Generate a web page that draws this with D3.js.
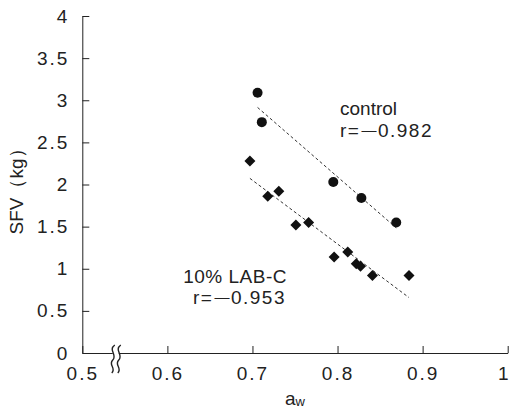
<!DOCTYPE html>
<html>
<head>
<meta charset="utf-8">
<script src="https://cdn.jsdelivr.net/npm/d3@7"></script>
<style>
  body { margin: 0; background: #fff; }
  svg { display: block; font-family: "Liberation Sans", Arial, sans-serif; }
  .axis text { font-size: 19px; fill: #222; letter-spacing: 2px; }
  .axis path, .axis line { stroke: #222; stroke-width: 1; }
  .note { font-size: 19px; fill: #222; }
</style>
</head>
<body>
<svg id="chart" width="510" height="410"></svg>
<script>
// control samples (a_w, SFV kg)
const controlAw = [0.706, 0.711, 0.795, 0.828, 0.869];
const controlSfv = [3.09, 2.74, 2.03, 1.84, 1.55];
// 10% LAB-C samples
const labAw = [0.697, 0.718, 0.731, 0.751, 0.766, 0.796, 0.812, 0.822, 0.827, 0.841, 0.884];
const labSfv = [2.28, 1.86, 1.92, 1.52, 1.55, 1.14, 1.20, 1.06, 1.03, 0.92, 0.92];

const xTicks = [0.5, 0.6, 0.7, 0.8, 0.9, 1];
const yTicks = [0, 0.5, 1, 1.5, 2, 2.5, 3, 3.5, 4];

const svg = d3.select("#chart");
const margin = { top: 16, right: 2.3, bottom: 57, left: 82.3 };
const width = 510 - margin.left - margin.right;
const height = 410 - margin.top - margin.bottom;

const g = svg.append("g").attr("transform", `translate(${margin.left},${margin.top})`);

const x = d3.scaleLinear().domain([0.5, 1]).range([0, width]);
const y = d3.scaleLinear().domain([0, 4]).range([height, 0]);

// axes, ticks point inward
const xAxis = g.append("g")
    .attr("class", "axis")
    .attr("transform", `translate(0,${height})`)
    .call(d3.axisBottom(x).tickValues(xTicks).tickFormat(d => String(d))
        .tickSizeInner(-7).tickSizeOuter(0).tickPadding(14));

// last label sits against the right edge
xAxis.selectAll(".tick text")
    .filter(d => d === 1)
    .attr("text-anchor", "end")
    .attr("letter-spacing", 0)
    .attr("x", 2.3);

g.append("g")
    .attr("class", "axis")
    .call(d3.axisLeft(y).tickValues(yTicks).tickFormat(d => String(d))
        .tickSizeInner(-7).tickSizeOuter(0).tickPadding(13));

g.selectAll(".axis").attr("font-size", null).attr("font-family", null);

// axis break on x
const bx = x(0.537);
g.append("path")
    .attr("d", `M${bx - 1},${height - 8} L${bx + 5},${height - 8} L${bx + 5},${height + 20} L${bx - 1},${height + 20} Z`)
    .attr("fill", "#fff");
[bx - 1, bx + 5].forEach(sx => {
    g.append("path")
        .attr("d", `M${sx + 2},${height - 8} C${sx - 5},${height - 3} ${sx + 5},${height + 2} ${sx},${height + 7} C${sx - 5},${height + 12} ${sx + 4},${height + 15} ${sx - 1},${height + 20}`)
        .attr("fill", "none")
        .attr("stroke", "#222")
        .attr("stroke-width", 1.4);
});

// regression lines
const fit = (xs, ys) => {
    const mx = d3.mean(xs), my = d3.mean(ys);
    const sxy = d3.sum(xs, (v, i) => (v - mx) * (ys[i] - my));
    const sxx = d3.sum(xs, v => (v - mx) * (v - mx));
    const b = sxy / sxx;
    const [x0, x1] = d3.extent(xs);
    return [[x0, my + b * (x0 - mx)], [x1, my + b * (x1 - mx)]];
};

[[controlAw, controlSfv], [labAw, labSfv]].forEach(([xs, ys]) => {
    const seg = fit(xs, ys);
    g.append("line")
        .attr("x1", x(seg[0][0])).attr("y1", y(seg[0][1]))
        .attr("x2", x(seg[1][0])).attr("y2", y(seg[1][1]))
        .attr("stroke", "#333")
        .attr("stroke-width", 1)
        .attr("stroke-dasharray", "3,2.5");
});

// markers
g.selectAll(".ctrl")
    .data(controlAw.map((v, i) => [v, controlSfv[i]]))
    .enter().append("circle")
    .attr("class", "ctrl")
    .attr("cx", d => x(d[0]))
    .attr("cy", d => y(d[1]))
    .attr("r", 5)
    .attr("fill", "#111");

const dr = 5.5;
g.selectAll(".lab")
    .data(labAw.map((v, i) => [v, labSfv[i]]))
    .enter().append("path")
    .attr("class", "lab")
    .attr("d", d => {
        const cx = x(d[0]), cy = y(d[1]);
        return `M${cx},${cy - dr} L${cx + dr},${cy} L${cx},${cy + dr} L${cx - dr},${cy} Z`;
    })
    .attr("fill", "#111");

// annotations; r line uses a long dash for the minus sign
const rText = (tx, ty, anchor, value) => {
    const t = svg.append("text").attr("class", "note")
        .attr("x", tx).attr("y", ty)
        .attr("text-anchor", anchor)
        .attr("letter-spacing", 1.5);
    t.append("tspan").text("r=");
    t.append("tspan").attr("font-size", 15).attr("dy", -2).attr("dx", 1).text("—");
    t.append("tspan").attr("dy", 2).text(value);
};

svg.append("text").attr("class", "note").attr("x", 340).attr("y", 115).text("control");
rText(340, 137, "start", "0.982");
svg.append("text").attr("class", "note").attr("x", 287).attr("y", 283)
    .attr("text-anchor", "end").attr("letter-spacing", 0.5).text("10% LAB-C");
rText(286, 304, "end", "0.953");

// axis titles
const xt = svg.append("text").attr("class", "note")
    .attr("x", 285).attr("y", 405);
xt.append("tspan").text("a");
xt.append("tspan").attr("font-size", 13).attr("dy", 1).text("w");

svg.append("text").attr("class", "note")
    .attr("font-size", 18)
    .attr("text-anchor", "middle")
    .attr("transform", "translate(23,187) rotate(-90)")
    .text("SFV（kg）");
</script>
</body>
</html>
